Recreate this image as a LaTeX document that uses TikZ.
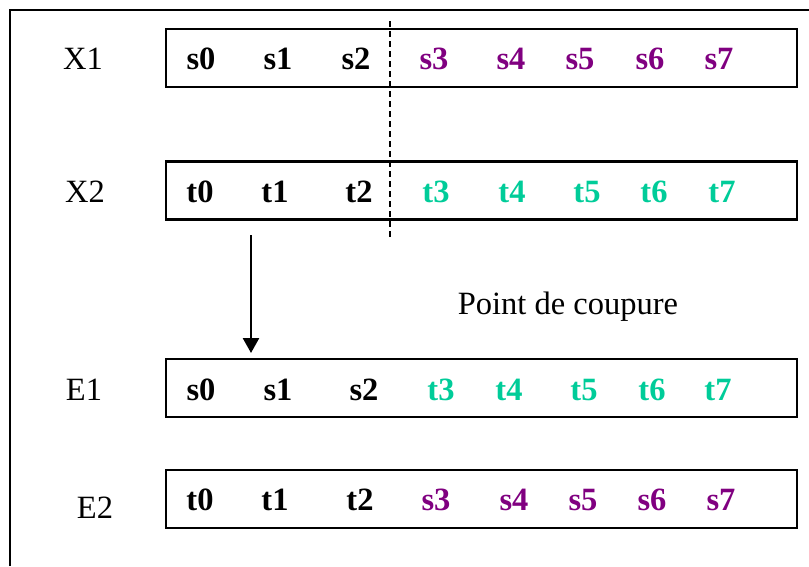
\documentclass[tikz,border=0pt]{standalone}
\usepackage{fontspec}
\setmainfont{Liberation Serif}
\usetikzlibrary{arrows.meta}
\definecolor{purp}{RGB}{128,0,128}
\definecolor{tealc}{RGB}{0,204,153}
\tikzset{
  rowbox/.style={draw=black, line width=2.2pt, minimum width=631pt, minimum height=58pt, inner sep=0pt},
  lbl/.style={font=\fontsize{32.5}{38}\selectfont, inner sep=0pt},
  itm/.style={font=\fontsize{32.5}{38}\selectfont\bfseries, inner sep=0pt},
  cut/.style={line width=1.8pt, dash pattern=on 6pt off 4pt},
  frame/.style={line width=2pt}
}
\begin{document}
\begin{tikzpicture}[x=1pt,y=-1pt]
\useasboundingbox (0,0) rectangle (809,566);
% outer frame (left and top visible)
\coordinate (fbl) at (10,566);
\coordinate (ftl) at (10,10);
\coordinate (ftr) at (809,10);
\draw[frame] (fbl) -- (ftl) -- (ftr);
% boxes
\node[rowbox] (bX1) at (481.5,58) {};
\node[rowbox] (bX2) at (481.5,190.5) {};
\node[rowbox] (bE1) at (481.5,388) {};
\node[rowbox] (bE2) at (481.5,499) {};
% row labels
\node[lbl] (lX1) at (83,59) {X1};
\node[lbl] (lX2) at (85,192) {X2};
\node[lbl] (lE1) at (84,390) {E1};
\node[lbl] (lE2) at (95,508) {E2};
% X1 items
\node[itm] (x1s0) at (201,59) {s0};
\node[itm] (x1s1) at (278,59) {s1};
\node[itm] (x1s2) at (356,59) {s2};
\node[itm,purp] (x1s3) at (434,59) {s3};
\node[itm,purp] (x1s4) at (511,59) {s4};
\node[itm,purp] (x1s5) at (580,59) {s5};
\node[itm,purp] (x1s6) at (650,59) {s6};
\node[itm,purp] (x1s7) at (719,59) {s7};
% X2 items
\node[itm] (x2t0) at (200,192) {t0};
\node[itm] (x2t1) at (275,192) {t1};
\node[itm] (x2t2) at (359,192) {t2};
\node[itm,tealc] (x2t3) at (436,192) {t3};
\node[itm,tealc] (x2t4) at (512,192) {t4};
\node[itm,tealc] (x2t5) at (587,192) {t5};
\node[itm,tealc] (x2t6) at (654,192) {t6};
\node[itm,tealc] (x2t7) at (722,192) {t7};
% E1 items
\node[itm] (e1s0) at (201,390) {s0};
\node[itm] (e1s1) at (278,390) {s1};
\node[itm] (e1s2) at (364,390) {s2};
\node[itm,tealc] (e1t3) at (441,390) {t3};
\node[itm,tealc] (e1t4) at (509,390) {t4};
\node[itm,tealc] (e1t5) at (584,390) {t5};
\node[itm,tealc] (e1t6) at (652,390) {t6};
\node[itm,tealc] (e1t7) at (718,390) {t7};
% E2 items
\node[itm] (e2t0) at (200,500) {t0};
\node[itm] (e2t1) at (275,500) {t1};
\node[itm] (e2t2) at (360,500) {t2};
\node[itm,purp] (e2s3) at (436,500) {s3};
\node[itm,purp] (e2s4) at (514,500) {s4};
\node[itm,purp] (e2s5) at (583,500) {s5};
\node[itm,purp] (e2s6) at (652,500) {s6};
\node[itm,purp] (e2s7) at (721,500) {s7};
% cut line
\coordinate (cutT) at (390,21);
\coordinate (cutB) at (390,237);
\draw[cut] (cutT) -- (cutB);
\node[lbl, anchor=base] (cutlbl) at (568,314) {Point de coupure};
% arrow
\coordinate (arS) at (251,235);
\coordinate (arE) at (251,353);
\draw[line width=2.6pt, -{Triangle[length=15pt,width=16pt]}] (arS) -- (arE);
\end{tikzpicture}
\end{document}
